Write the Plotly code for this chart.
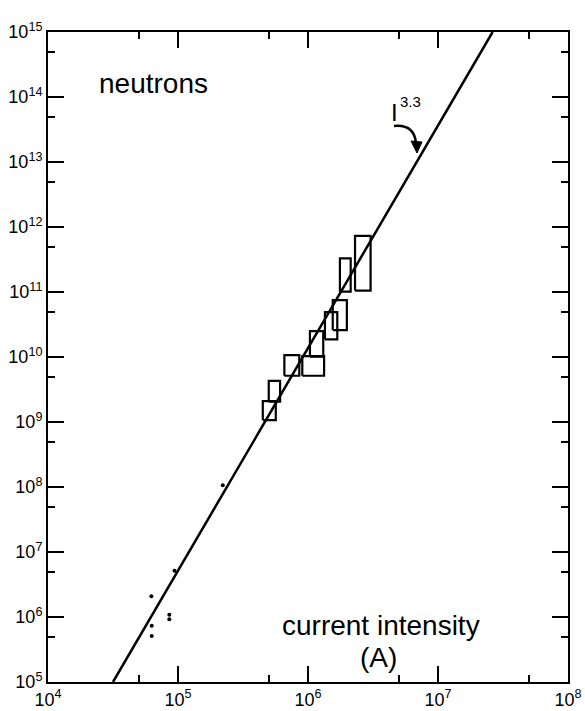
import plotly.graph_objects as go

# ---- data ----
# rectangular data boxes: (x_lo, x_hi, y_lo, y_hi)
box_x_lo = [4.49e5, 4.99e5, 6.58e5, 9.04e5, 1.035e6, 1.35e6, 1.55e6, 1.76e6, 2.30e6]
box_x_hi = [5.65e5, 6.10e5, 8.57e5, 1.33e6, 1.31e6, 1.68e6, 1.99e6, 2.13e6, 3.03e6]
box_y_lo = [1.07e9, 2.05e9, 5.15e9, 5.15e9, 1.01e10, 1.87e10, 2.6e10, 1.01e11, 1.05e11]
box_y_hi = [2.10e9, 4.30e9, 1.07e10, 1.03e10, 2.5e10, 4.9e10, 7.5e10, 3.3e11, 7.3e11]

# small points
pt_x = [2.21e5, 9.4e4, 6.24e4, 8.57e4, 8.57e4, 6.28e4, 6.28e4]
pt_y = [1.06e8, 5.15e6, 2.08e6, 1.08e6, 9.2e5, 7.35e5, 5.1e5]

# fit line I^3.3 (end points)
fit_x = [10 ** 4.5, 10 ** 7.42]
fit_y = [1e5, 1e15]

x_tick_vals = [1e4, 1e5, 1e6, 1e7, 1e8]
x_tick_text = ["10<sup>4</sup>", "10<sup>5</sup>", "10<sup>6</sup>", "10<sup>7</sup>", "10<sup>8</sup>"]
y_tick_vals = [10.0 ** k for k in range(5, 16)]
y_tick_text = ["10<sup>%d</sup>" % k for k in range(5, 16)]
x_minor = [5e4, 5e5, 5e6, 5e7]
y_minor = [5 * 10.0 ** k for k in range(5, 15)]

# ---- figure ----
W, H = 585, 711
L, R, T, B = 48, 17, 32, 29
pw, ph = W - L - R, H - T - B


def px(x):
    return (x - L) / pw


def py(y):
    return (H - B - y) / ph


fig = go.Figure()

for i in range(len(box_x_lo)):
    x0, x1, y0, y1 = box_x_lo[i], box_x_hi[i], box_y_lo[i], box_y_hi[i]
    fig.add_trace(go.Scatter(
        x=[x0, x1, x1, x0, x0], y=[y0, y0, y1, y1, y0],
        mode="lines", line=dict(color="black", width=2.2),
        showlegend=False, hoverinfo="skip"))

fig.add_trace(go.Scatter(
    x=fit_x, y=fit_y, mode="lines",
    line=dict(color="black", width=2.5), showlegend=False))

fig.add_trace(go.Scatter(
    x=pt_x, y=pt_y, mode="markers",
    marker=dict(color="black", size=4), showlegend=False))

axis_common = dict(
    type="log", showgrid=False, zeroline=False, automargin=False,
    showline=True, linecolor="black", linewidth=2, mirror="ticks",
    ticks="inside", ticklen=16, tickwidth=2, tickcolor="black",
    tickfont=dict(family="Liberation Sans, Arial", size=18, color="black"),
)

fig.update_xaxes(
    range=[4, 8], tickmode="array", tickvals=x_tick_vals, ticktext=x_tick_text,
    minor=dict(tickmode="array", tickvals=x_minor, ticks="inside", ticklen=7,
               tickwidth=2, tickcolor="black", showgrid=False),
    **axis_common)
fig.update_yaxes(
    range=[5, 15], tickmode="array", tickvals=y_tick_vals, ticktext=y_tick_text,
    minor=dict(tickmode="array", tickvals=y_minor, ticks="inside", ticklen=7,
               tickwidth=2, tickcolor="black", showgrid=False),
    **axis_common)

font_big = dict(family="Liberation Sans, Arial", size=28, color="black")
annots = [
    dict(text="neutrons", x=px(153), y=py(84), font=font_big),
    dict(text="current intensity", x=px(381), y=py(625), font=font_big),
    dict(text="(A)", x=px(378), y=py(657), font=font_big),
    dict(text="I", x=px(394), y=py(112), font=dict(family="Liberation Sans, Arial", size=24, color="black")),
    dict(text="3.3", x=px(410), y=py(101), font=dict(family="Liberation Sans, Arial", size=15, color="black")),
]
for a in annots:
    fig.add_annotation(xref="paper", yref="paper", showarrow=False,
                       xanchor="center", yanchor="middle", **a)

# curved arrow
def pp(x, y):
    return "%f %f" % (px(x), py(y))

arc = "M %s Q %s %s" % (pp(394, 126), pp(414, 124), pp(416, 143))
head = "M %s L %s L %s Z" % (pp(411, 141), pp(422, 142), pp(417, 153))
fig.add_shape(type="path", xref="paper", yref="paper", path=arc,
              line=dict(color="black", width=2.5))
fig.add_shape(type="path", xref="paper", yref="paper", path=head,
              line=dict(color="black", width=1), fillcolor="black")

fig.update_layout(
    width=W, height=H,
    margin=dict(l=L, r=R, t=T, b=B, autoexpand=False),
    paper_bgcolor="white", plot_bgcolor="white",
    showlegend=False,
)

fig.write_html("out.html")
